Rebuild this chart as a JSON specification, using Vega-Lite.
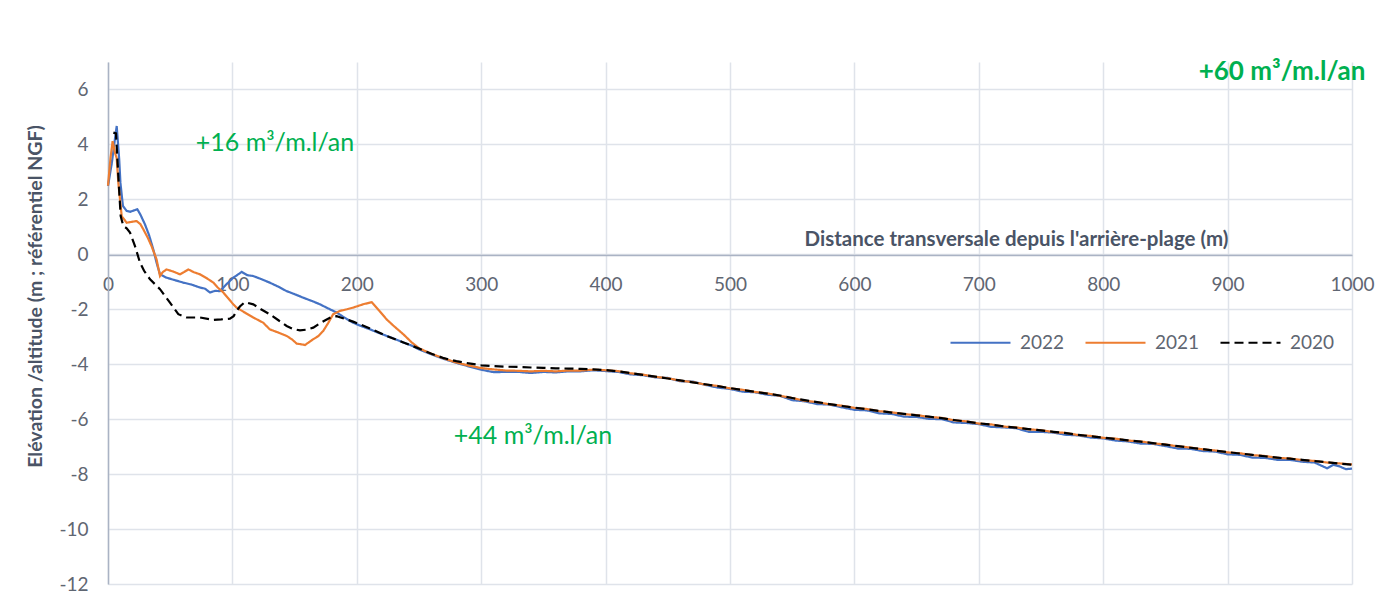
{
  "$schema": "https://vega.github.io/schema/vega-lite/v6.json",
  "width": 1244,
  "height": 522,
  "autosize": "none",
  "padding": {"left": 108, "top": 62, "right": 42, "bottom": 27},
  "background": "white",
  "config": {
    "font": "Lato",
    "view": {"stroke": null},
    "axis": {
      "ticks": false,
      "labelFontSize": 19,
      "labelColor": "#5f6672",
      "domainColor": "#aab3c4",
      "domainWidth": 1.5,
      "gridColor": "#dfe3ea",
      "gridWidth": 1.5,
      "titleFontWeight": "bold",
      "titleColor": "#4a5466",
      "labelOverlap": false,
      "labelFlush": false,
      "labelExpr": "datum.value < 0 ? '-' + abs(datum.value) : '' + datum.value"
    }
  },
  "datasets": {
    "profils": [
      {"annee":"2022","x":0,"y":2.49},{"annee":"2022","x":3,"y":3.3},{"annee":"2022","x":5,"y":4.0},{"annee":"2022","x":7,"y":4.67},{"annee":"2022","x":9,"y":3.46},{"annee":"2022","x":10,"y":2.6},{"annee":"2022","x":12,"y":1.76},{"annee":"2022","x":15,"y":1.58},{"annee":"2022","x":18,"y":1.55},{"annee":"2022","x":21,"y":1.6},{"annee":"2022","x":23.6,"y":1.64},{"annee":"2022","x":26,"y":1.45},{"annee":"2022","x":29.7,"y":1.09},{"annee":"2022","x":33,"y":0.7},{"annee":"2022","x":36.4,"y":0.18},{"annee":"2022","x":39,"y":-0.3},{"annee":"2022","x":41.8,"y":-0.73},{"annee":"2022","x":47,"y":-0.85},{"annee":"2022","x":53,"y":-0.93},{"annee":"2022","x":60.5,"y":-1.03},{"annee":"2022","x":67,"y":-1.1},{"annee":"2022","x":74,"y":-1.21},{"annee":"2022","x":78,"y":-1.25},{"annee":"2022","x":82,"y":-1.39},{"annee":"2022","x":86,"y":-1.33},{"annee":"2022","x":90,"y":-1.34},{"annee":"2022","x":95,"y":-1.1},{"annee":"2022","x":100.7,"y":-0.85},{"annee":"2022","x":104,"y":-0.75},{"annee":"2022","x":107.5,"y":-0.64},{"annee":"2022","x":112,"y":-0.76},{"annee":"2022","x":116.8,"y":-0.79},{"annee":"2022","x":123,"y":-0.9},{"annee":"2022","x":130,"y":-1.03},{"annee":"2022","x":137,"y":-1.18},{"annee":"2022","x":143.6,"y":-1.34},{"annee":"2022","x":150,"y":-1.45},{"annee":"2022","x":157,"y":-1.58},{"annee":"2022","x":164,"y":-1.7},{"annee":"2022","x":170.4,"y":-1.82},{"annee":"2022","x":177,"y":-1.97},{"annee":"2022","x":183.8,"y":-2.12},{"annee":"2022","x":190,"y":-2.3},{"annee":"2022","x":197,"y":-2.49},{"annee":"2022","x":204,"y":-2.62},{"annee":"2022","x":210.6,"y":-2.73},{"annee":"2022","x":217,"y":-2.85},{"annee":"2022","x":224,"y":-2.97},{"annee":"2022","x":231,"y":-3.09},{"annee":"2022","x":237.4,"y":-3.21},{"annee":"2022","x":244,"y":-3.32},{"annee":"2022","x":250,"y":-3.46},
      {"annee":"2022","x":260,"y":-3.64},{"annee":"2022","x":270,"y":-3.81},{"annee":"2022","x":280,"y":-3.95},{"annee":"2022","x":290,"y":-4.08},{"annee":"2022","x":300,"y":-4.2},{"annee":"2022","x":310,"y":-4.29},{"annee":"2022","x":320,"y":-4.28},{"annee":"2022","x":330,"y":-4.28},{"annee":"2022","x":340,"y":-4.32},{"annee":"2022","x":350,"y":-4.28},{"annee":"2022","x":360,"y":-4.3},{"annee":"2022","x":370,"y":-4.26},{"annee":"2022","x":380,"y":-4.26},{"annee":"2022","x":390,"y":-4.22},{"annee":"2022","x":400,"y":-4.25},{"annee":"2022","x":410,"y":-4.28},{"annee":"2022","x":420,"y":-4.37},{"annee":"2022","x":430,"y":-4.4},{"annee":"2022","x":440,"y":-4.48},{"annee":"2022","x":450,"y":-4.5},{"annee":"2022","x":460,"y":-4.62},{"annee":"2022","x":470,"y":-4.63},{"annee":"2022","x":480,"y":-4.75},{"annee":"2022","x":490,"y":-4.85},{"annee":"2022","x":500,"y":-4.9},{"annee":"2022","x":510,"y":-5.0},{"annee":"2022","x":520,"y":-5.02},{"annee":"2022","x":530,"y":-5.11},{"annee":"2022","x":540,"y":-5.15},{"annee":"2022","x":550,"y":-5.31},{"annee":"2022","x":560,"y":-5.35},{"annee":"2022","x":570,"y":-5.45},{"annee":"2022","x":580,"y":-5.47},{"annee":"2022","x":590,"y":-5.57},{"annee":"2022","x":600,"y":-5.66},{"annee":"2022","x":610,"y":-5.68},{"annee":"2022","x":620,"y":-5.79},{"annee":"2022","x":630,"y":-5.81},{"annee":"2022","x":640,"y":-5.91},{"annee":"2022","x":650,"y":-5.92},{"annee":"2022","x":660,"y":-5.99},{"annee":"2022","x":670,"y":-6.0},{"annee":"2022","x":680,"y":-6.12},{"annee":"2022","x":690,"y":-6.14},{"annee":"2022","x":700,"y":-6.18},{"annee":"2022","x":710,"y":-6.28},{"annee":"2022","x":720,"y":-6.3},{"annee":"2022","x":730,"y":-6.33},{"annee":"2022","x":740,"y":-6.46},{"annee":"2022","x":750,"y":-6.46},{"annee":"2022","x":760,"y":-6.49},{"annee":"2022","x":770,"y":-6.57},{"annee":"2022","x":780,"y":-6.59},{"annee":"2022","x":790,"y":-6.67},{"annee":"2022","x":800,"y":-6.7},{"annee":"2022","x":810,"y":-6.78},{"annee":"2022","x":820,"y":-6.81},{"annee":"2022","x":830,"y":-6.89},{"annee":"2022","x":840,"y":-6.9},{"annee":"2022","x":850,"y":-6.98},{"annee":"2022","x":860,"y":-7.07},{"annee":"2022","x":870,"y":-7.08},{"annee":"2022","x":880,"y":-7.16},{"annee":"2022","x":890,"y":-7.18},{"annee":"2022","x":900,"y":-7.28},{"annee":"2022","x":910,"y":-7.3},{"annee":"2022","x":920,"y":-7.4},{"annee":"2022","x":930,"y":-7.41},{"annee":"2022","x":940,"y":-7.48},{"annee":"2022","x":950,"y":-7.48},{"annee":"2022","x":960,"y":-7.55},{"annee":"2022","x":970,"y":-7.58},{"annee":"2022","x":980,"y":-7.79},{"annee":"2022","x":985,"y":-7.66},{"annee":"2022","x":990,"y":-7.72},{"annee":"2022","x":995,"y":-7.82},{"annee":"2022","x":1000,"y":-7.8},
      {"annee":"2021","x":0,"y":2.5},{"annee":"2021","x":2,"y":3.5},{"annee":"2021","x":3.7,"y":4.12},{"annee":"2021","x":5.6,"y":3.7},{"annee":"2021","x":7,"y":3.5},{"annee":"2021","x":8.3,"y":2.61},{"annee":"2021","x":11,"y":1.39},{"annee":"2021","x":15,"y":1.15},{"annee":"2021","x":19,"y":1.18},{"annee":"2021","x":23,"y":1.21},{"annee":"2021","x":26,"y":1.1},{"annee":"2021","x":28.4,"y":0.91},{"annee":"2021","x":32,"y":0.6},{"annee":"2021","x":35,"y":0.3},{"annee":"2021","x":39,"y":-0.18},{"annee":"2021","x":41.8,"y":-0.79},{"annee":"2021","x":44,"y":-0.65},{"annee":"2021","x":47,"y":-0.55},{"annee":"2021","x":52,"y":-0.62},{"annee":"2021","x":57.9,"y":-0.73},{"annee":"2021","x":61,"y":-0.65},{"annee":"2021","x":64.6,"y":-0.55},{"annee":"2021","x":69,"y":-0.65},{"annee":"2021","x":74,"y":-0.73},{"annee":"2021","x":79,"y":-0.86},{"annee":"2021","x":84.7,"y":-1.03},{"annee":"2021","x":88,"y":-1.2},{"annee":"2021","x":92.7,"y":-1.39},{"annee":"2021","x":97,"y":-1.62},{"annee":"2021","x":100.7,"y":-1.82},{"annee":"2021","x":103.4,"y":-1.94},{"annee":"2021","x":110,"y":-2.12},{"annee":"2021","x":116.8,"y":-2.3},{"annee":"2021","x":124.8,"y":-2.49},{"annee":"2021","x":130,"y":-2.73},{"annee":"2021","x":137,"y":-2.85},{"annee":"2021","x":143.6,"y":-2.97},{"annee":"2021","x":148,"y":-3.1},{"annee":"2021","x":151.7,"y":-3.25},{"annee":"2021","x":158.4,"y":-3.3},{"annee":"2021","x":165,"y":-3.09},{"annee":"2021","x":169,"y":-2.98},{"annee":"2021","x":173,"y":-2.79},{"annee":"2021","x":177,"y":-2.5},{"annee":"2021","x":181,"y":-2.18},{"annee":"2021","x":186.5,"y":-2.06},{"annee":"2021","x":192,"y":-2.0},{"annee":"2021","x":197,"y":-1.94},{"annee":"2021","x":205,"y":-1.82},{"annee":"2021","x":212,"y":-1.74},{"annee":"2021","x":218,"y":-2.05},{"annee":"2021","x":224,"y":-2.37},{"annee":"2021","x":230,"y":-2.62},{"annee":"2021","x":237.4,"y":-2.91},{"annee":"2021","x":244,"y":-3.2},{"annee":"2021","x":250,"y":-3.42},
      {"annee":"2021","x":260,"y":-3.62},{"annee":"2021","x":270,"y":-3.79},{"annee":"2021","x":280,"y":-3.94},{"annee":"2021","x":290,"y":-4.05},{"annee":"2021","x":300,"y":-4.14},{"annee":"2021","x":310,"y":-4.19},{"annee":"2021","x":320,"y":-4.23},{"annee":"2021","x":330,"y":-4.24},{"annee":"2021","x":340,"y":-4.26},{"annee":"2021","x":350,"y":-4.24},{"annee":"2021","x":360,"y":-4.26},{"annee":"2021","x":370,"y":-4.23},{"annee":"2021","x":380,"y":-4.23},{"annee":"2021","x":390,"y":-4.2},{"annee":"2021","x":400,"y":-4.22},{"annee":"2021","x":410,"y":-4.25},{"annee":"2021","x":420,"y":-4.33},{"annee":"2021","x":430,"y":-4.38},{"annee":"2021","x":440,"y":-4.46},{"annee":"2021","x":450,"y":-4.51},{"annee":"2021","x":460,"y":-4.6},{"annee":"2021","x":470,"y":-4.65},{"annee":"2021","x":480,"y":-4.74},{"annee":"2021","x":490,"y":-4.79},{"annee":"2021","x":500,"y":-4.88},{"annee":"2021","x":510,"y":-4.93},{"annee":"2021","x":520,"y":-5.01},{"annee":"2021","x":530,"y":-5.06},{"annee":"2021","x":540,"y":-5.15},{"annee":"2021","x":550,"y":-5.23},{"annee":"2021","x":560,"y":-5.33},{"annee":"2021","x":570,"y":-5.38},{"annee":"2021","x":580,"y":-5.46},{"annee":"2021","x":590,"y":-5.51},{"annee":"2021","x":600,"y":-5.59},{"annee":"2021","x":610,"y":-5.63},{"annee":"2021","x":620,"y":-5.71},{"annee":"2021","x":630,"y":-5.75},{"annee":"2021","x":640,"y":-5.82},{"annee":"2021","x":650,"y":-5.85},{"annee":"2021","x":660,"y":-5.92},{"annee":"2021","x":670,"y":-5.95},{"annee":"2021","x":680,"y":-6.04},{"annee":"2021","x":690,"y":-6.08},{"annee":"2021","x":700,"y":-6.16},{"annee":"2021","x":710,"y":-6.19},{"annee":"2021","x":720,"y":-6.27},{"annee":"2021","x":730,"y":-6.3},{"annee":"2021","x":740,"y":-6.37},{"annee":"2021","x":750,"y":-6.4},{"annee":"2021","x":760,"y":-6.47},{"annee":"2021","x":770,"y":-6.5},{"annee":"2021","x":780,"y":-6.58},{"annee":"2021","x":790,"y":-6.61},{"annee":"2021","x":800,"y":-6.68},{"annee":"2021","x":810,"y":-6.71},{"annee":"2021","x":820,"y":-6.78},{"annee":"2021","x":830,"y":-6.81},{"annee":"2021","x":840,"y":-6.88},{"annee":"2021","x":850,"y":-6.92},{"annee":"2021","x":860,"y":-6.99},{"annee":"2021","x":870,"y":-7.03},{"annee":"2021","x":880,"y":-7.1},{"annee":"2021","x":890,"y":-7.14},{"annee":"2021","x":900,"y":-7.21},{"annee":"2021","x":910,"y":-7.24},{"annee":"2021","x":920,"y":-7.31},{"annee":"2021","x":930,"y":-7.34},{"annee":"2021","x":940,"y":-7.41},{"annee":"2021","x":950,"y":-7.43},{"annee":"2021","x":960,"y":-7.49},{"annee":"2021","x":970,"y":-7.52},{"annee":"2021","x":980,"y":-7.58},{"annee":"2021","x":990,"y":-7.61},{"annee":"2021","x":1000,"y":-7.65},
      {"annee":"2020","x":4.3,"y":4.43},{"annee":"2020","x":6.4,"y":4.4},{"annee":"2020","x":8.3,"y":2.85},{"annee":"2020","x":10.2,"y":1.39},{"annee":"2020","x":12.3,"y":1.03},{"annee":"2020","x":15,"y":0.95},{"annee":"2020","x":17.7,"y":0.79},{"annee":"2020","x":21.7,"y":0.3},{"annee":"2020","x":25.7,"y":-0.3},{"annee":"2020","x":29,"y":-0.6},{"annee":"2020","x":33.8,"y":-0.91},{"annee":"2020","x":41.8,"y":-1.27},{"annee":"2020","x":49.8,"y":-1.76},{"annee":"2020","x":56.5,"y":-2.18},{"annee":"2020","x":63.3,"y":-2.3},{"annee":"2020","x":74,"y":-2.3},{"annee":"2020","x":84.7,"y":-2.39},{"annee":"2020","x":91,"y":-2.37},{"annee":"2020","x":98,"y":-2.34},{"annee":"2020","x":101,"y":-2.25},{"annee":"2020","x":103.4,"y":-2.06},{"annee":"2020","x":106,"y":-1.9},{"annee":"2020","x":110,"y":-1.74},{"annee":"2020","x":116.8,"y":-1.82},{"annee":"2020","x":123,"y":-2.0},{"annee":"2020","x":130,"y":-2.18},{"annee":"2020","x":137,"y":-2.4},{"annee":"2020","x":143.6,"y":-2.61},{"annee":"2020","x":149,"y":-2.72},{"annee":"2020","x":154.3,"y":-2.77},{"annee":"2020","x":160,"y":-2.74},{"annee":"2020","x":165,"y":-2.67},{"annee":"2020","x":170,"y":-2.52},{"annee":"2020","x":175.8,"y":-2.37},{"annee":"2020","x":180,"y":-2.27},{"annee":"2020","x":183.8,"y":-2.25},{"annee":"2020","x":187,"y":-2.3},{"annee":"2020","x":191.9,"y":-2.37},{"annee":"2020","x":197,"y":-2.45},{"annee":"2020","x":202.6,"y":-2.55},{"annee":"2020","x":213,"y":-2.75},{"annee":"2020","x":224,"y":-2.97},{"annee":"2020","x":237,"y":-3.2},{"annee":"2020","x":250,"y":-3.43},
      {"annee":"2020","x":260,"y":-3.62},{"annee":"2020","x":270,"y":-3.78},{"annee":"2020","x":280,"y":-3.89},{"annee":"2020","x":290,"y":-3.97},{"annee":"2020","x":300,"y":-4.04},{"annee":"2020","x":310,"y":-4.07},{"annee":"2020","x":320,"y":-4.09},{"annee":"2020","x":330,"y":-4.1},{"annee":"2020","x":340,"y":-4.12},{"annee":"2020","x":350,"y":-4.13},{"annee":"2020","x":360,"y":-4.15},{"annee":"2020","x":370,"y":-4.16},{"annee":"2020","x":380,"y":-4.17},{"annee":"2020","x":390,"y":-4.19},{"annee":"2020","x":400,"y":-4.21},{"annee":"2020","x":410,"y":-4.26},{"annee":"2020","x":420,"y":-4.32},{"annee":"2020","x":430,"y":-4.39},{"annee":"2020","x":440,"y":-4.45},{"annee":"2020","x":450,"y":-4.52},{"annee":"2020","x":460,"y":-4.59},{"annee":"2020","x":470,"y":-4.66},{"annee":"2020","x":480,"y":-4.73},{"annee":"2020","x":490,"y":-4.8},{"annee":"2020","x":500,"y":-4.87},{"annee":"2020","x":510,"y":-4.94},{"annee":"2020","x":520,"y":-5.0},{"annee":"2020","x":530,"y":-5.07},{"annee":"2020","x":540,"y":-5.14},{"annee":"2020","x":550,"y":-5.23},{"annee":"2020","x":560,"y":-5.31},{"annee":"2020","x":570,"y":-5.38},{"annee":"2020","x":580,"y":-5.45},{"annee":"2020","x":590,"y":-5.52},{"annee":"2020","x":600,"y":-5.58},{"annee":"2020","x":610,"y":-5.64},{"annee":"2020","x":620,"y":-5.7},{"annee":"2020","x":630,"y":-5.76},{"annee":"2020","x":640,"y":-5.81},{"annee":"2020","x":650,"y":-5.86},{"annee":"2020","x":660,"y":-5.91},{"annee":"2020","x":670,"y":-5.96},{"annee":"2020","x":680,"y":-6.03},{"annee":"2020","x":690,"y":-6.09},{"annee":"2020","x":700,"y":-6.15},{"annee":"2020","x":710,"y":-6.2},{"annee":"2020","x":720,"y":-6.26},{"annee":"2020","x":730,"y":-6.31},{"annee":"2020","x":740,"y":-6.36},{"annee":"2020","x":750,"y":-6.41},{"annee":"2020","x":760,"y":-6.46},{"annee":"2020","x":770,"y":-6.51},{"annee":"2020","x":780,"y":-6.57},{"annee":"2020","x":790,"y":-6.62},{"annee":"2020","x":800,"y":-6.67},{"annee":"2020","x":810,"y":-6.72},{"annee":"2020","x":820,"y":-6.77},{"annee":"2020","x":830,"y":-6.82},{"annee":"2020","x":840,"y":-6.87},{"annee":"2020","x":850,"y":-6.93},{"annee":"2020","x":860,"y":-6.98},{"annee":"2020","x":870,"y":-7.04},{"annee":"2020","x":880,"y":-7.09},{"annee":"2020","x":890,"y":-7.15},{"annee":"2020","x":900,"y":-7.2},{"annee":"2020","x":910,"y":-7.25},{"annee":"2020","x":920,"y":-7.3},{"annee":"2020","x":930,"y":-7.35},{"annee":"2020","x":940,"y":-7.4},{"annee":"2020","x":950,"y":-7.44},{"annee":"2020","x":960,"y":-7.48},{"annee":"2020","x":970,"y":-7.53},{"annee":"2020","x":980,"y":-7.57},{"annee":"2020","x":990,"y":-7.62},{"annee":"2020","x":1000,"y":-7.66}
    ],
    "notes": [
      {"x":134.2,"y":4.04,"texte":"+16 m³/m.l/an","gras":"non"},
      {"x":341.6,"y":-6.63,"texte":"+44 m³/m.l/an","gras":"non"},
      {"x":943.7,"y":6.63,"texte":"+60 m³/m.l/an","gras":"oui"}
    ]
  },
  "layer": [
    {
      "data": {"name": "profils"},
      "mark": {"type": "line", "strokeWidth": 2.2, "clip": false},
      "encoding": {
        "x": {
          "field": "x", "type": "quantitative",
          "scale": {"domain": [0, 1000], "nice": false, "zero": false},
          "axis": {
            "title": "Distance transversale depuis l'arrière-plage (m)",
            "values": [0,100,200,300,400,500,600,700,800,900,1000],
            "offset": -329,
            "labelPadding": 20,
            "titleFontSize": 20.5,
            "titleAlign": "right",
            "titleAnchor": null,
            "titleX": 1120,
            "titleY": -16,
            "titleBaseline": "middle"
          }
        },
        "y": {
          "field": "y", "type": "quantitative",
          "scale": {"domain": [-12, 7], "nice": false, "zero": false},
          "axis": {
            "title": "Elévation /altitude (m ; référentiel NGF)",
            "values": [-12,-10,-8,-6,-4,-2,0,2,4,6],
            "labelPadding": 20,
            "titleFontSize": 19.5,
            "titleX": -63,
            "titleY": 234,
            "titleAlign": "center",
            "titleBaseline": "bottom"
          }
        },
        "color": {
          "field": "annee", "type": "nominal",
          "scale": {"domain": ["2022","2021","2020"], "range": ["#4472c4","#ed7d31","#000000"]},
          "legend": {
            "title": null,
            "orient": "none",
            "legendX": 841,
            "legendY": 249,
            "direction": "horizontal",
            "symbolType": "stroke",
            "symbolSize": 3600,
            "symbolStrokeWidth": 2.2,
            "labelFontSize": 19,
            "labelColor": "#5f6672",
            "labelOffset": 8,
            "columnPadding": 16
          }
        },
        "strokeDash": {
          "field": "annee", "type": "nominal",
          "scale": {"domain": ["2022","2021","2020"], "range": [[1,0],[1,0],[9,5]]},
          "legend": {
            "title": null,
            "orient": "none",
            "legendX": 841,
            "legendY": 249,
            "direction": "horizontal",
            "symbolType": "stroke",
            "symbolSize": 3600,
            "symbolStrokeWidth": 2.2,
            "labelFontSize": 19,
            "labelColor": "#5f6672",
            "labelOffset": 8,
            "columnPadding": 16
          }
        }
      }
    },
    {
      "data": {"name": "notes"},
      "transform": [{"filter": "datum.gras == 'non'"}],
      "mark": {"type": "text", "fontSize": 25, "color": "#00b050", "align": "center", "baseline": "middle", "clip": false},
      "encoding": {
        "x": {"field": "x", "type": "quantitative"},
        "y": {"field": "y", "type": "quantitative"},
        "text": {"field": "texte"}
      }
    },
    {
      "data": {"name": "notes"},
      "transform": [{"filter": "datum.gras == 'oui'"}],
      "mark": {"type": "text", "fontSize": 26, "fontWeight": "bold", "color": "#00b050", "align": "center", "baseline": "middle", "clip": false},
      "encoding": {
        "x": {"field": "x", "type": "quantitative"},
        "y": {"field": "y", "type": "quantitative"},
        "text": {"field": "texte"}
      }
    }
  ]
}
